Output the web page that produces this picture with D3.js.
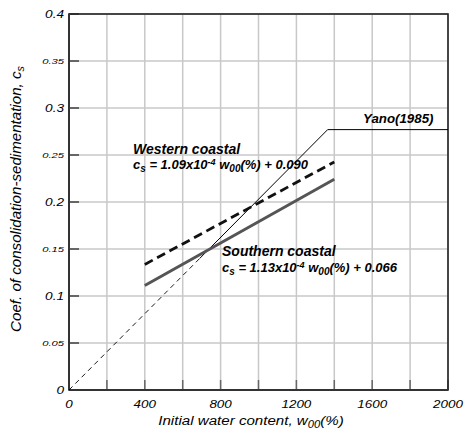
<!DOCTYPE html>
<html><head><meta charset="utf-8">
<script src="https://cdn.jsdelivr.net/npm/d3@7"></script>
<style>body{margin:0;background:#fff}text{font-family:Arial,"Liberation Sans",sans-serif;font-style:italic}</style>
</head><body>
<svg id="c" width="465" height="435"></svg>
<script>
const xTicks=[0,400,800,1200,1600,2000];
const xGrid=[0,200,400,600,800,1000,1200,1400,1600,1800,2000];
const yMajor=[0,0.1,0.2,0.3,0.4];
const yMinor=[0.05,0.15,0.25,0.35];
const westernW=[400,1400];
const westernCs=[0.1336,0.2426];
const southernW=[400,1400];
const southernCs=[0.1112,0.2242];
const yanoDashW=[0,690];
const yanoDashCs=[0,0.140];
const yanoSolidW=[690,1365,2000];
const yanoSolidCs=[0.140,0.277,0.277];

const svg=d3.select("#c");
const m={l:69,t:14,r:448,b:390};
const x=d3.scaleLinear().domain([0,2000]).range([m.l,m.r]);
const y=d3.scaleLinear().domain([0,0.4]).range([m.b,m.t]);

const g=svg.append("g");
g.selectAll(".gx").data(xGrid).join("line").attr("x1",d=>x(d)).attr("x2",d=>x(d)).attr("y1",m.t).attr("y2",m.b).attr("stroke","#c8c8c8").attr("stroke-width",1.5);
g.selectAll(".gy").data(yMajor.concat(yMinor)).join("line").attr("y1",d=>y(d)).attr("y2",d=>y(d)).attr("x1",m.l).attr("x2",m.r).attr("stroke","#c8c8c8").attr("stroke-width",1.5);
g.selectAll(".ty").data(yMajor.concat(yMinor)).join("line").attr("y1",d=>y(d)).attr("y2",d=>y(d)).attr("x1",m.l).attr("x2",m.l+10).attr("stroke","#666").attr("stroke-width",2);
g.selectAll(".tx").data(xGrid).join("line").attr("x1",d=>x(d)).attr("x2",d=>x(d)).attr("y1",m.b).attr("y2",m.b-10).attr("stroke","#666").attr("stroke-width",1.5);
svg.append("rect").attr("x",m.l).attr("y",m.t).attr("width",m.r-m.l).attr("height",m.b-m.t).attr("fill","none").attr("stroke","#222").attr("stroke-width",1.6);
svg.append("line").attr("x1",m.l).attr("x2",m.l).attr("y1",m.t).attr("y2",m.b).attr("stroke","#333").attr("stroke-width",2);
svg.append("line").attr("x1",m.l).attr("x2",m.r).attr("y1",m.b).attr("y2",m.b).attr("stroke","#333").attr("stroke-width",2);

const line=d3.line().x(d=>x(d[0])).y(d=>y(d[1]));
const zip=(a,b)=>a.map((v,i)=>[v,b[i]]);
svg.append("path").attr("d",line(zip(yanoDashW,yanoDashCs))).attr("fill","none").attr("stroke","#000").attr("stroke-width",0.9).attr("stroke-dasharray","5,4");
svg.append("path").attr("d",line(zip(yanoSolidW,yanoSolidCs))).attr("fill","none").attr("stroke","#000").attr("stroke-width",1);
svg.append("path").attr("d",line(zip(southernW,southernCs))).attr("fill","none").attr("stroke","#555").attr("stroke-width",3);
svg.append("path").attr("d",line(zip(westernW,westernCs))).attr("fill","none").attr("stroke","#111").attr("stroke-width",2.8).attr("stroke-dasharray","9,5");

function stext(px,py,sx,size,anchor,str){
  svg.append("g").attr("transform",`translate(${px},${py}) scale(${sx},1)`)
    .append("text").attr("text-anchor",anchor).attr("font-size",size).text(str);
}
yMajor.forEach(d=>stext(m.l-5,y(d)+4,1.3,10.5,"end",d===0?"0":d3.format(".1f")(d)));
yMinor.forEach(d=>stext(m.l-5,y(d)+3,1.4,8,"end",d3.format(".2f")(d)));
xTicks.forEach(d=>stext(x(d),m.b+18,1.28,10.5,"middle",String(d)));

const xg=svg.append("g").attr("transform","translate(251,425) scale(1.12,1)");
const xt=xg.append("text").attr("text-anchor","middle").attr("font-size",13.5);
xt.append("tspan").text("Initial water content, w");
xt.append("tspan").attr("font-size",10).attr("dy",3).text("00");
xt.append("tspan").attr("dy",-3).text("(%)");
const yg=svg.append("g").attr("transform","translate(21,199) rotate(-90) scale(1.08,1)");
const yt=yg.append("text").attr("text-anchor","middle").attr("font-size",14);
yt.append("tspan").text("Coef. of consolidation-sedimentation, c");
yt.append("tspan").attr("font-size",10).attr("dy",3).text("s");

function eq(xp,yp,a,b){
  const t=svg.append("text").attr("x",xp).attr("y",yp).attr("font-size",13).attr("font-weight","bold");
  t.append("tspan").text("c");
  t.append("tspan").attr("font-size",10).attr("dy",3).text("s");
  t.append("tspan").attr("dy",-3).text(" = "+a+"x10");
  t.append("tspan").attr("font-size",9).attr("dy",-4).text("-4");
  t.append("tspan").attr("dy",4).text(" w");
  t.append("tspan").attr("font-size",10).attr("dy",3).text("00");
  t.append("tspan").attr("dy",-3).text("(%) + "+b);
}
svg.append("text").attr("x",133).attr("y",154).attr("font-size",14).attr("font-weight","bold").text("Western coastal");
eq(133,169,"1.09","0.090");
svg.append("text").attr("x",222).attr("y",256).attr("font-size",14).attr("font-weight","bold").text("Southern coastal");
eq(222,272,"1.13","0.066");
svg.append("text").attr("x",363).attr("y",123).attr("font-size",13.3).attr("font-weight","bold").text("Yano(1985)");
</script>
</body></html>
